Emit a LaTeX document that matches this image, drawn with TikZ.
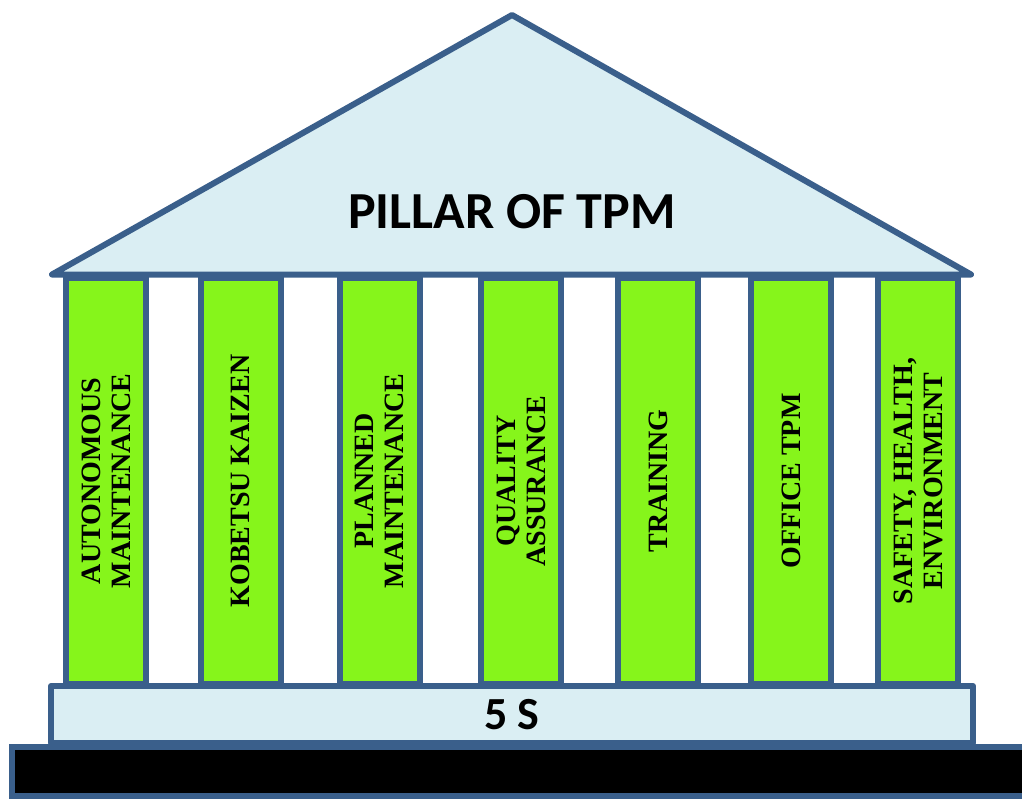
\documentclass[tikz,border=0pt]{standalone}
\usepackage{fontspec}
\setmainfont{Liberation Serif}
\newfontfamily\calib{Carlito}
\definecolor{edgeblue}{HTML}{3A5F8B}
\definecolor{paleblue}{HTML}{DAEEF3}
\definecolor{pillargreen}{HTML}{86F51B}
\tikzset{
  pillar/.style={draw=edgeblue, fill=pillargreen, line width=6pt, rectangle, rotate=90,
    minimum width=406pt, minimum height=80pt, inner sep=0pt, align=center,
    font=\fontsize{28}{30}\selectfont\bfseries},
  pale/.style={draw=edgeblue, fill=paleblue, line width=6pt, line join=round, line cap=round},
}
\begin{document}
\begin{tikzpicture}[x=1pt,y=-1pt]
\useasboundingbox (0,0) rectangle (1022,798);
% ground
\path[draw=edgeblue, fill=black, line width=6pt] (12,747) rectangle (1040,796);
% pillars
\node[pillar] (p1) at (106,481)   {AUTONOMOUS\\MAINTENANCE};
\node[pillar] (p2) at (240.5,481) {KOBETSU KAIZEN};
\node[pillar] (p3) at (379.5,481) {PLANNED\\MAINTENANCE};
\node[pillar] (p4) at (521,481)   {QUALITY\\ASSURANCE};
\node[pillar] (p5) at (658,481)   {TRAINING};
\node[pillar] (p6) at (791,481)   {OFFICE TPM};
\node[pillar] (p7) at (918,481)   {SAFETY, HEALTH,\\ENVIRONMENT};
% roof
\coordinate (rl) at (52,274.5);
\coordinate (rr) at (971,274.5);
\coordinate (apex) at (512,15);
\path[pale] (rl) -- (apex) -- (rr) -- cycle;
\node[font=\calib\bfseries\fontsize{52}{56}\selectfont, inner sep=0pt] (title) at (512,212) {PILLAR OF TPM};
% base
\node[pale, rectangle, minimum width=922pt, minimum height=57pt, inner sep=0pt,
  font=\calib\bfseries\fontsize{46}{50}\selectfont] (base) at (512,714.5) {5 S};
\end{tikzpicture}
\end{document}
